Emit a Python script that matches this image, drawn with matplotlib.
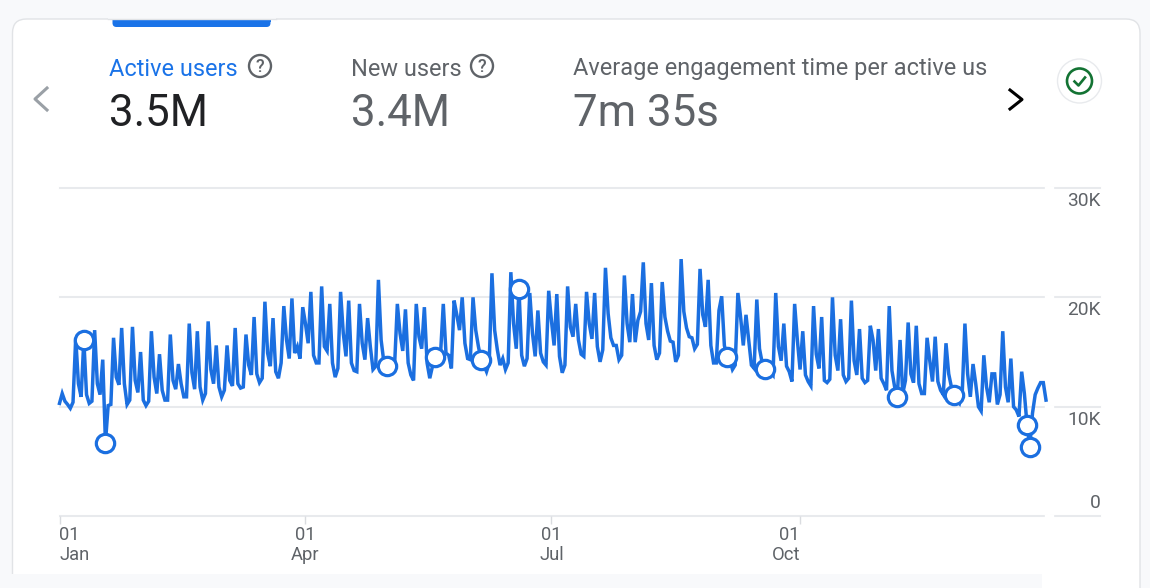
import matplotlib
matplotlib.use("Agg")
import matplotlib.pyplot as plt
from matplotlib.patches import Circle, FancyBboxPatch, Rectangle
from matplotlib.transforms import ScaledTranslation

plt.rcParams["font.family"] = ["Roboto", "DejaVu Sans"]

# Daily active users, in thousands
users_q1 = [
    10.3, 11.2, 10.5, 10.2, 9.85, 10.4, 16.3, 12.1, 10.9, 16.1, 11.1, 10.3, 10.5, 17.0,
    12.1, 11.1, 14.3, 6.7, 10.1, 10.2, 16.3, 12.7, 12.0, 17.2, 12.1, 10.2, 10.6, 17.3,
    12.4, 11.3, 15.0, 10.6, 10.1, 10.5, 16.9, 12.7, 11.2, 14.8, 11.5, 10.6, 10.6, 16.6,
    12.4, 11.6, 13.9, 12.1, 10.9, 10.9, 17.6, 13.1, 11.6, 16.9, 11.8, 10.6, 11.2, 17.8,
    13.4, 12.1, 15.6, 11.8, 10.9, 11.5, 15.6, 12.4, 11.9, 17.2, 12.1, 11.7, 11.8, 16.6,
    13.8, 12.9, 18.2, 13.0, 12.2, 12.6, 19.6, 14.9, 13.7, 18.1, 13.2, 12.6, 14.0, 19.2,
    16.1, 14.4, 19.9, 14.9, 15.5, 14.4, 19.1,
]
users_q2 = [
    17.6, 15.8, 20.5, 14.7, 14.0, 14.0, 21.0, 15.5, 15.1, 19.4, 14.0, 12.7, 13.5, 20.5,
    16.7, 14.6, 19.7, 14.0, 13.3, 13.2, 19.4, 15.8, 14.3, 18.1, 15.5, 13.4, 13.7, 21.6,
    16.1, 14.1, 13.7, 13.7, 13.7, 13.9, 19.4, 16.7, 15.1, 18.9, 14.0, 12.9, 12.4, 19.4,
    16.4, 15.3, 19.1, 14.0, 12.6, 13.7, 14.5, 14.9, 14.9, 19.4, 14.9, 14.7, 13.5, 19.7,
    18.4, 17.0, 20.0, 15.8, 14.4, 14.3, 20.0, 17.0, 15.5, 14.3, 13.8, 13.2, 14.0, 22.2,
    17.0, 15.2, 13.8, 14.4, 13.4, 14.0, 22.3, 17.6, 15.3, 20.8, 14.7, 13.7, 14.4, 20.4,
    16.7, 14.6, 18.8, 14.9, 14.1, 13.8, 20.6,
]
users_q3 = [
    17.9, 15.6, 20.3, 14.6, 13.1, 13.8, 21.0, 17.3, 16.4, 19.4, 16.1, 14.8, 14.6, 20.5,
    17.6, 16.2, 20.4, 15.5, 14.1, 15.2, 22.7, 18.5, 16.3, 15.6, 15.6, 14.3, 14.7, 22.0,
    17.6, 15.9, 20.3, 15.9, 17.9, 18.7, 23.2, 17.6, 16.1, 21.3, 15.6, 14.3, 14.9, 21.4,
    18.2, 16.9, 16.0, 15.9, 14.1, 14.7, 23.5, 18.7, 17.2, 16.4, 16.3, 15.3, 15.7, 22.6,
    18.4, 17.3, 21.6, 15.6, 14.0, 14.0, 18.8, 20.1, 15.6, 14.5, 14.3, 13.4, 13.8, 20.4,
    18.2, 15.6, 18.4, 16.1, 13.8, 13.5, 19.8, 15.3, 14.0, 13.4, 13.5, 13.2, 12.9, 20.4,
    15.5, 14.2, 17.6, 13.7, 13.2, 12.3, 19.4, 16.1,
]
users_q4 = [
    13.4, 16.9, 12.9, 12.3, 11.9, 19.2, 14.8, 13.5, 18.2, 12.4, 12.2, 12.5, 20.0, 14.7,
    13.3, 18.0, 12.9, 12.3, 12.6, 19.7, 14.2, 12.9, 17.1, 12.6, 12.2, 12.4, 17.4, 16.1,
    13.3, 17.1, 12.6, 12.1, 11.5, 19.2, 13.3, 11.8, 10.9, 16.1, 11.2, 12.4, 17.7, 13.0,
    12.2, 17.4, 12.1, 11.2, 11.2, 16.3, 14.2, 12.3, 16.4, 12.3, 11.5, 11.1, 15.8, 13.0,
    11.8, 11.1, 10.6, 10.3, 11.2, 17.6, 13.0, 10.9, 13.9, 12.1, 10.0, 9.6, 14.7, 11.8,
    10.4, 13.0, 13.0, 10.2, 11.1, 16.9, 11.8, 10.4, 14.4, 10.0, 9.7, 9.1, 13.2, 11.2,
    8.3, 6.3, 9.4, 11.1, 11.7, 12.2, 12.2, 10.6,
]
users = users_q1 + users_q2 + users_q3 + users_q4
days = list(range(len(users)))

# Anomaly days get a hollow circle
anomaly_days = [9, 17, 121, 139, 156, 170, 247, 261, 310, 331, 358, 359]

month_days = [0, 91, 182, 274]
month_labels = ["01\nJan", "01\nApr", "01\nJul", "01\nOct"]
month_aligns = ["left", "center", "center", "right"]
y_ticks = [0, 10, 20, 30]
y_labels = ["0", "10K", "20K", "30K"]

metric_names = ["Active users", "New users", "Average engagement time per active us"]
metric_values = ["3.5M", "3.4M", "7m 35s"]
metric_x = [109, 351, 573]

BLUE = "#1a73e8"
GRAY = "#5f6368"
DARK = "#202124"
GRID = "#e8eaed"
BORDER = "#e1e3e6"
OUTER = "#f8f9fb"

fig = plt.figure(figsize=(11.5, 5.88), dpi=100, facecolor=OUTER)

# Page furniture lives on a pixel-sized axes behind the chart
bg = fig.add_axes([0, 0, 1, 1])
bg.set_xlim(0, 1150)
bg.set_ylim(588, 0)
bg.axis("off")

bg.add_patch(FancyBboxPatch((12.5, 19), 1127.5, 600, boxstyle="round,pad=0,rounding_size=14",
                            fc="white", ec=BORDER, lw=1.0))
bg.add_patch(Rectangle((0, 573.5), 1042, 16, fc=OUTER, ec="none", zorder=3))
bg.add_patch(FancyBboxPatch((112.5, 12), 158, 15, boxstyle="round,pad=0,rounding_size=4",
                            fc=BLUE, ec="none"))
bg.add_patch(Rectangle((108, 0), 168, 19, fc=OUTER, ec="none"))
bg.plot([108, 276], [19, 19], color=BORDER, lw=1.0)
bg.add_patch(Rectangle((112.5, 19), 158, 3, fc=BLUE, ec="none"))

for i, (name, value, x) in enumerate(zip(metric_names, metric_values, metric_x)):
    c = BLUE if i == 0 else GRAY
    bg.text(x, 75.5, name, color=c, fontsize=16.95, va="baseline", ha="left")
    bg.text(x, 126.5, value, color=DARK if i == 0 else GRAY, fontsize=31.6, va="baseline", ha="left")

# help icons
for cx in [260, 482]:
    bg.add_patch(Circle((cx, 66), 11, fc="none", ec=GRAY, lw=1.7))
    bg.text(cx, 66.5, "?", color=GRAY, fontsize=13, ha="center", va="center", fontweight="medium")

# carousel arrows
bg.plot([47, 35, 47], [88, 99, 110], color="#9aa0a6", lw=2.2)
bg.plot([1010, 1022, 1010], [90, 99.5, 109], color="black", lw=2.2)

# status badge
bg.add_patch(Circle((1079.5, 81), 22, fc="white", ec=GRID, lw=1))
bg.add_patch(Circle((1079.5, 81), 12.5, fc="none", ec="#137333", lw=1.9))
bg.plot([1074.5, 1078.5, 1085], [81.5, 85.5, 77.5], color="#137333", lw=1.9)

# Chart
ax = fig.add_axes([59.5 / 1150, (588 - 516) / 588, (1046 - 59.5) / 1150, (516 - 188) / 588])
ax.patch.set_alpha(0)
ax.set_xlim(0, 365)
ax.set_ylim(0, 30)
for s in ax.spines.values():
    s.set_visible(False)

for v in y_ticks:
    ax.axhline(v, color=GRID, lw=1.5, zorder=1, clip_on=False)
    ax.plot([1.006, 1.0545], [v, v], color=GRID, lw=1.5, clip_on=False,
            transform=ax.get_yaxis_transform())
# gap in the grid lines before the axis labels
for v in y_ticks:
    ax.plot([0.9995, 1.006], [v, v], color="white", lw=2.4, clip_on=False, zorder=2,
            transform=ax.get_yaxis_transform())

ax.plot(days, users, color="#1b6fe0", lw=2.5, zorder=3, solid_joinstyle="miter", clip_on=False)
ax.plot(anomaly_days, [users[d] for d in anomaly_days], ls="none", marker="o", ms=13.2,
        mfc="white", mec="#1b6fe0", mew=2.3, zorder=4, clip_on=False)

ax.set_xticks(month_days)
ax.set_xticklabels(month_labels, color=GRAY, fontsize=13.2, linespacing=1.12)
ax.tick_params(axis="x", length=6, width=1, color="#dadce0", pad=1.5)
for lab, al in zip(ax.get_xticklabels(), month_aligns):
    lab.set_ha(al)

ax.yaxis.tick_right()
ax.set_yticks(y_ticks)
ax.set_yticklabels(y_labels, color=GRAY, fontsize=13.8)
ax.tick_params(axis="y", length=0, pad=39.5)
# labels sit under their line, except the zero which sits above it
for lab, v in zip(ax.get_yticklabels(), y_ticks):
    lab.set_ha("right")
    lab.set_va("center")
    dy = 13 if v == 0 else -13
    lab.set_transform(lab.get_transform() + ScaledTranslation(0, dy / 100, fig.dpi_scale_trans))

fig.savefig("out.png", dpi=100, facecolor=fig.get_facecolor())
